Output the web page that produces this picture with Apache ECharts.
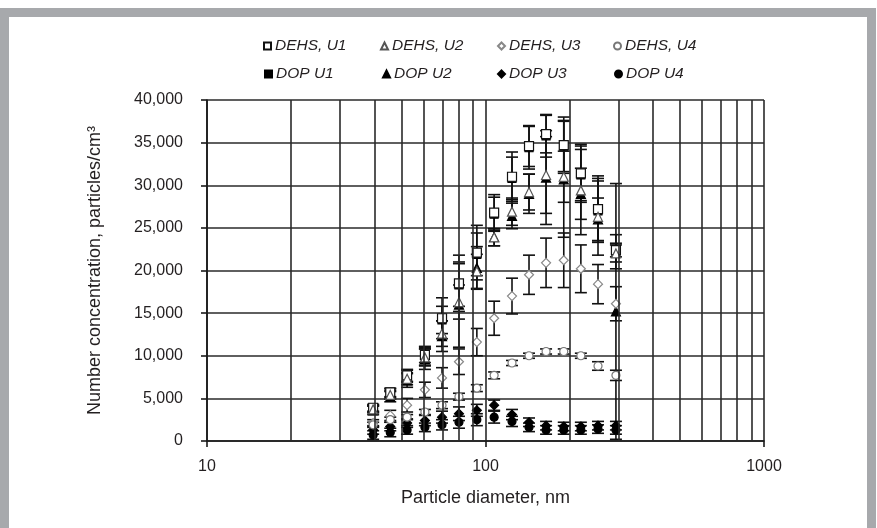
<!DOCTYPE html>
<html>
<head>
<meta charset="utf-8">
<script src="https://cdn.jsdelivr.net/npm/echarts@6/dist/echarts.min.js"></script>
<style>
  html, body { margin:0; padding:0; background:#fff; }
  #wrap { position:relative; width:877px; height:528px; overflow:hidden; background:#fff; }
  #frame { position:absolute; left:0px; top:8px; width:858px; height:560px; border:9px solid #a7a9ac; box-sizing:content-box; }
  #chart { position:absolute; left:0; top:0; width:877px; height:528px; }
</style>
</head>
<body>
<div id="wrap"><div id="frame"></div><div id="chart"></div></div>
<script>
// Particle diameters (nm)
const sizes = [39.5, 45.5, 52.3, 60.6, 69.8, 80.3, 93.1, 107.4, 124.5, 143.3, 165, 191, 220, 253.5, 294];

// Number concentrations (particles/cm3) and error (±)
const dehsU1    = [3900, 5700, 7700, 10100, 14400, 18500, 22100, 26800, 31000, 34600, 36000, 34700, 31400, 27200, 22400];
const dehsU1Err = [400, 500, 700, 900, 2400, 3300, 3200, 2100, 2900, 2400, 2200, 3300, 3400, 3900, 800];
const dehsU2    = [3700, 5400, 7300, 9800, 12600, 16300, 19900, 23900, 26900, 29200, 31200, 31000, 29400, 26300, 22000];
const dehsU2Err = [400, 500, 700, 1000, 1500, 2000, 2000, 1000, 1600, 2100, 4500, 3000, 5200, 4500, 1000];
const dehsU3    = [2100, 3000, 4200, 6000, 7400, 9300, 11600, 14400, 17000, 19500, 20900, 21200, 20200, 18400, 16100];
const dehsU3Err = [400, 600, 800, 900, 1200, 1500, 1600, 2000, 2100, 2300, 2900, 3200, 2800, 2300, 2000];
const dehsU4    = [1900, 2500, 2800, 3400, 4200, 5200, 6200, 7700, 9150, 10000, 10500, 10500, 10000, 8800, 7700];
const dehsU4Err = [300, 300, 300, 300, 400, 400, 400, 400, 300, 300, 300, 300, 300, 500, 600];
const dopU1     = [3800, 5600, 7600, 10000, 14200, 18300, 21900, 26600, 30800, 34400, 35800, 34600, 31200, 27000, 22200];
const dopU1Err  = [400, 500, 700, 1100, 1600, 2500, 2500, 2000, 2500, 2500, 2500, 3000, 3000, 3500, 2000];
const dopU2     = [3600, 5200, 7100, 9600, 12300, 16000, 20300, 23900, 26400, 29000, 30900, 30700, 29000, 26000, 15200];
const dopU2Err  = [500, 600, 800, 1200, 1800, 5000, 2500, 1000, 1500, 2300, 5500, 6800, 3000, 2500, 15000];
const dopU3     = [1300, 1700, 2100, 2400, 2800, 3200, 3600, 4200, 3100, 2200, 1800, 1700, 1700, 1800, 1800];
const dopU3Err  = [500, 500, 500, 600, 700, 800, 700, 600, 600, 500, 500, 500, 500, 500, 500];
const dopU4     = [700, 1000, 1300, 1600, 1900, 2200, 2500, 2800, 2300, 1600, 1300, 1300, 1300, 1400, 1300];
const dopU4Err  = [500, 500, 500, 500, 600, 700, 700, 700, 600, 500, 500, 500, 500, 500, 500];

// Axis settings
const xMin = 10, xMax = 1000;
const yMin = 0, yMax = 40000, yStep = 5000;
const extraGridX = [20, 30, 40, 50, 60, 70, 80, 90, 200, 300, 400, 500, 600, 700, 800, 900];

const FONT = '"Liberation Sans", Arial, sans-serif';
const INK = '#231f20';

const seriesDefs = [
  { name: 'DOP U1',   vals: dopU1,  err: dopU1Err,  symbol: 'rect',     size: 8, fill: '#000', stroke: '#000', z: 3 },
  { name: 'DOP U2',   vals: dopU2,  err: dopU2Err,  symbol: 'triangle', size: 9, fill: '#000', stroke: '#000', z: 3 },
  { name: 'DOP U3',   vals: dopU3,  err: dopU3Err,  symbol: 'diamond',  size: 9, fill: '#000', stroke: '#000', z: 3 },
  { name: 'DOP U4',   vals: dopU4,  err: dopU4Err,  symbol: 'circle',   size: 8, fill: '#000', stroke: '#000', z: 3 },
  { name: 'DEHS, U1', vals: dehsU1, err: dehsU1Err, symbol: 'rect',     size: 9, fill: '#fff', stroke: '#111', z: 4 },
  { name: 'DEHS, U2', vals: dehsU2, err: dehsU2Err, symbol: 'triangle', size: 9, fill: '#fff', stroke: '#555', z: 4 },
  { name: 'DEHS, U3', vals: dehsU3, err: dehsU3Err, symbol: 'diamond',  size: 9, fill: '#fff', stroke: '#888', z: 4 },
  { name: 'DEHS, U4', vals: dehsU4, err: dehsU4Err, symbol: 'circle',   size: 8, fill: '#fff', stroke: '#777', z: 4 }
];

function errRender(params, api) {
  const x = api.value(0), lo = api.value(1), hi = api.value(2);
  const a = api.coord([x, hi]);
  const b = api.coord([x, lo]);
  const w = 6;
  const st = { stroke: '#111', lineWidth: 1.6 };
  return {
    type: 'group',
    children: [
      { type: 'line', shape: { x1: a[0], y1: a[1], x2: b[0], y2: b[1] }, style: st },
      { type: 'line', shape: { x1: a[0] - w, y1: a[1], x2: a[0] + w, y2: a[1] }, style: st },
      { type: 'line', shape: { x1: b[0] - w, y1: b[1], x2: b[0] + w, y2: b[1] }, style: st }
    ]
  };
}

const series = [];
series.push({
  type: 'line', name: '_grid', data: [], silent: true, z: 1,
  markLine: {
    silent: true, symbol: ['none', 'none'], label: { show: false },
    lineStyle: { color: '#2a2a2a', width: 1.6, type: 'solid' },
    animation: false,
    data: extraGridX.map(v => ({ xAxis: v }))
  }
});
seriesDefs.forEach(d => {
  series.push({
    type: 'custom', name: d.name + '_err', renderItem: errRender, z: 2, silent: true,
    encode: { x: 0, y: [1, 2] },
    data: sizes.map((s, i) => [s, Math.max(0, d.vals[i] - d.err[i]), d.vals[i] + d.err[i]])
  });
});
seriesDefs.forEach(d => {
  series.push({
    type: 'scatter', name: d.name, symbol: d.symbol, symbolSize: d.size, z: d.z,
    itemStyle: { color: d.fill, borderColor: d.stroke, borderWidth: 1.2, opacity: 1 },
    data: sizes.map((s, i) => [s, d.vals[i]])
  });
});

const legendOrder = ['DEHS, U1', 'DEHS, U2', 'DEHS, U3', 'DEHS, U4', 'DOP U1', 'DOP U2', 'DOP U3', 'DOP U4'];
const legendLeft = [263, 380, 497, 613, 264, 382, 497, 614];
const legendTop = [38, 38, 38, 38, 66, 66, 66, 66];
const legends = legendOrder.map((n, i) => ({
  data: [n], left: legendLeft[i], top: legendTop[i], padding: 0,
  itemWidth: 7, itemHeight: 7, itemGap: 0, selectedMode: false,
  textStyle: { fontFamily: FONT, fontStyle: 'italic', fontSize: 15.5, color: INK, padding: [0, 0, 0, -1] }
}));

const chart = echarts.init(document.getElementById('chart'), null, { renderer: 'canvas' });
chart.setOption({
  animation: false,
  backgroundColor: 'transparent',
  legend: legends,
  grid: { left: 207, right: 113, top: 100, bottom: 87, containLabel: false },
  xAxis: {
    type: 'log', logBase: 10, min: xMin, max: xMax,
    name: 'Particle diameter, nm', nameLocation: 'middle', nameGap: 48,
    nameTextStyle: { fontFamily: FONT, fontSize: 18, color: INK },
    axisLine: { show: true, lineStyle: { color: '#1a1a1a', width: 1.6 } },
    axisTick: { show: true, inside: false, length: 6, lineStyle: { color: '#1a1a1a', width: 1.6 } },
    axisLabel: { fontFamily: FONT, fontSize: 16, color: INK, margin: 18, formatter: v => String(v) },
    splitLine: { show: true, lineStyle: { color: '#2a2a2a', width: 1.6 } },
    minorTick: { show: false }, minorSplitLine: { show: false }
  },
  yAxis: {
    type: 'value', min: yMin, max: yMax, interval: yStep,
    name: 'Number concentration, particles/cm\u00b3', nameLocation: 'middle', nameGap: 103, nameRotate: 90,
    nameTextStyle: { fontFamily: FONT, fontSize: 18, color: INK },
    axisLine: { show: true, lineStyle: { color: '#1a1a1a', width: 1.6 } },
    axisTick: { show: true, inside: false, length: 6, lineStyle: { color: '#1a1a1a', width: 1.6 } },
    axisLabel: { fontFamily: FONT, fontSize: 16, color: INK, margin: 24,
      formatter: v => v.toLocaleString('en-US') },
    splitLine: { show: true, lineStyle: { color: '#2a2a2a', width: 1.6 } }
  },
  series: series
});
</script>
</body>
</html>
